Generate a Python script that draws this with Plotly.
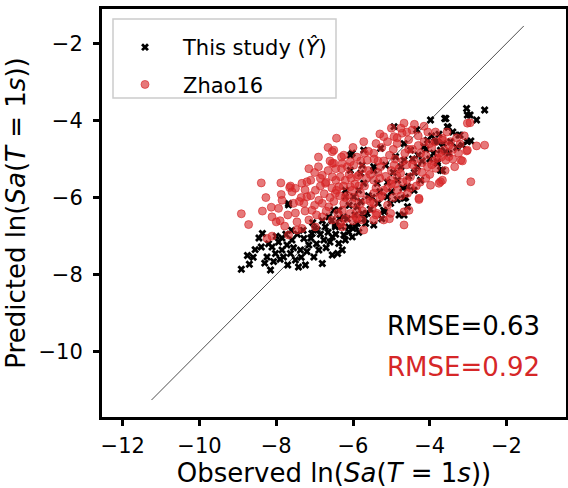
import plotly.graph_objects as go

# ---- data ----
ours_obs = [-8.91,-8.70,-8.36,-8.39,-8.24,-8.15,-8.11,-8.02,-8.07,-7.94,-7.85,-7.81,-7.68,-7.72,-7.63,-7.59,-7.50,-7.42,-7.37,-7.24,
            -7.28,-7.15,-7.07,-7.02,-6.89,-6.80,-6.76,-6.93,-6.72,-6.54,-6.54,-6.37,-6.28,-6.24,-6.46,-6.11,-6.02,-5.89,-6.07,-5.80,
            -5.85,-6.20,-6.37,-6.63,-5.76,-4.93,-3.98,-3.58,-3.54,-3.24,-3.02,-3.02,-4.34,-4.67,-4.06,-3.80,-4.15,-3.72,-3.50,-3.80,
            -3.72,-5.72,-5.28,-6.02,-5.15,-4.89,-4.50,-4.67,-4.32,-4.24,-4.58,-4.84,-5.37,-5.72,-5.98,-6.20,-6.50,-6.24,-5.89,-5.63,
            -5.67,-5.46,-5.20,-5.02,-4.67,-4.58,-4.80,-4.41,-5.93,-6.46,-6.11,-5.11,-5.46,-6.07,-5.46,-5.76,-3.04,-2.57,-2.95,-2.78,
            -3.61,-3.52,-3.76,-3.21,-3.87,-3.46,-2.93,-3.15,-3.58,-3.80,-3.67,-4.67,-4.63,-5.18,-7.68,
            -8.55,-8.45,-8.30,-8.20,-8.00,-7.90,-7.75,-7.70,-7.55,-7.45,-7.35,-7.30,-7.20,-7.10,-7.00,-6.95,-6.85,-6.70,-6.65,-6.60,
            -6.45,-6.40,-6.30,-6.20,-6.15,-6.00,-5.95,-5.85,-5.70,-5.55,-5.50,-5.35,-5.30,-5.25,-5.10,-5.00,-4.95,-4.85,-4.75,-4.70,
            -4.55,-4.45,-4.40,-4.30,-4.20,-4.10,-4.00,-3.95,-3.90,-3.65,-3.40,-3.30,-5.60,-5.80,-6.10,-6.35,-6.55,-6.80,-7.05,-7.60,
            -7.85,-8.60,-8.75]
ours_pred = [-7.86,-7.73,-6.93,-7.28,-7.54,-7.88,-7.28,-7.45,-7.66,-7.15,-7.36,-7.54,-6.15,-7.23,-7.45,-7.10,-7.62,-7.80,-7.36,-7.75,
             -7.06,-7.23,-6.93,-7.54,-7.36,-7.71,-7.10,-6.84,-6.76,-7.02,-7.49,-7.19,-7.36,-6.97,-6.71,-6.76,-7.02,-6.67,-4.90,-5.37,
             -5.81,-5.98,-6.33,-6.50,-6.41,-4.16,-3.99,-3.95,-4.16,-4.38,-3.86,-4.55,-4.24,-4.60,-4.51,-4.55,-4.68,-4.77,-4.85,-5.07,
             -5.29,-4.77,-4.72,-4.85,-5.16,-4.94,-4.77,-5.03,-5.20,-5.55,-5.72,-5.55,-5.63,-5.63,-5.98,-5.81,-6.33,-6.50,-6.24,-6.41,
             -6.67,-6.71,-6.33,-6.15,-6.02,-6.24,-6.45,-5.81,-6.76,-6.76,-6.89,-5.98,-5.29,-5.29,-5.20,-5.16,-3.69,-3.73,-3.86,-3.99,
             -3.95,-4.18,-4.36,-4.38,-4.55,-4.55,-4.53,-4.64,-4.81,-5.11,-5.30,-6.45,-6.00,-6.37,-6.19,
             -7.35,-7.05,-7.70,-7.20,-7.00,-7.60,-6.95,-7.75,-7.30,-6.95,-7.55,-6.85,-7.40,-7.05,-6.80,-7.20,-6.95,-7.30,-6.90,-7.15,
             -6.95,-7.45,-6.75,-7.10,-6.55,-6.80,-6.45,-6.90,-6.55,-6.30,-6.00,-6.15,-5.85,-6.55,-5.60,-5.85,-5.35,-6.05,-5.20,-5.75,
             -5.45,-5.00,-5.35,-4.90,-5.05,-4.75,-5.00,-4.40,-4.85,-4.60,-4.30,-4.70,-5.95,-6.10,-6.20,-6.55,-6.60,-6.60,-6.65,-6.85,
             -7.05,-7.55,-7.50]

zhao_obs = [-8.91,-8.72,-8.39,-8.27,-8.36,-8.13,-8.00,-8.11,-7.88,-7.87,-7.94,-7.85,-7.78,-7.63,-7.59,-7.50,-7.33,-7.20,-7.50,-7.46,
            -7.46,-8.24,-8.11,-7.68,-7.28,-7.20,-6.98,-6.80,-6.54,-6.54,-6.24,-6.28,-5.98,-6.72,-6.54,-6.89,-7.07,-7.15,-6.98,-6.80,
            -6.63,-6.46,-6.37,-6.20,-6.02,-5.85,-6.28,-6.02,-5.80,-6.54,-6.28,-5.93,-5.76,-7.33,
            -6.43,-5.72,-5.20,-4.93,-4.67,-4.46,-4.72,-4.15,-3.67,-3.46,-3.02,-3.02,-3.19,-3.58,-3.67,-3.98,-4.28,-4.54,-4.67,-5.02,
            -6.50,-6.50,-6.07,-5.63,-5.46,-5.28,-4.93,-4.76,-4.41,-4.24,-4.06,-4.50,-5.02,-5.46,-5.89,-6.33,-6.43,-6.07,-5.80,-5.46,
            -5.20,-4.84,-4.58,-5.46,-6.24,-6.07,-5.37,-5.20,-5.46,-5.89,-6.33,-5.72,-4.67,-3.72,
            -2.95,-3.67,-3.21,-3.04,-2.78,-2.57,-3.15,-3.63,-3.50,-3.80,-3.85,-2.93,-3.76,-4.28,-7.65,
            -6.90,-6.75,-6.65,-6.60,-6.45,-6.40,-6.30,-6.15,-6.10,-5.95,-5.90,-5.75,-5.70,-5.65,-5.60,-5.55,-5.50,-5.40,-5.35,-5.30,
            -5.25,-5.15,-5.10,-5.05,-5.00,-4.95,-4.90,-4.85,-4.80,-4.70,-4.65,-4.60,-4.55,-4.50,-4.45,-4.35,-4.30,-4.25,-4.20,-4.10,
            -4.05,-4.00,-3.95,-3.90,-3.85,-3.75,-3.55,-3.40,-3.35,-3.30,-6.85,-7.00,-7.10,-7.25,-7.40,-6.70,-6.20,-6.00,-5.80,-6.00,
            -5.40,-5.10,-4.95,-4.60,-4.40,-4.85,-5.30,-5.65,-6.25,-6.55,-6.85,
            -7.90,-7.70,-7.55,-7.35,-7.25,-7.10,-7.00,-6.95,-6.80,-6.70,-6.60,-6.50,-6.45,-6.35,-6.30,-6.20,-6.15,-6.05,-5.95,-5.90,
            -5.85,-5.75,-5.70,-5.60,-5.55,-5.45,-5.40,-5.35,-5.25,-5.20,-5.10,-5.05,-5.00,-4.90,-4.85,-4.75,-4.70,-4.60,-4.55,-4.45,
            -4.35,-4.30,-4.20,-4.15,-4.10,-4.00,-3.95,-3.85,-3.70,-3.60,-3.50,-3.40,-3.25,-3.10,-6.65,-6.90,-7.15,-5.30,-5.00,-4.75]
zhao_pred = [-6.42,-6.70,-5.62,-6.00,-6.35,-6.25,-6.63,-6.50,-5.62,-5.92,-6.28,-6.07,-6.74,-5.70,-5.85,-5.76,-5.63,-5.59,-6.40,-6.63,
             -6.84,-7.06,-7.00,-6.97,-6.15,-5.98,-5.81,-5.42,-4.81,-5.11,-4.90,-5.11,-5.16,-5.63,-5.46,-6.07,-6.33,-6.58,-6.76,-6.50,
             -6.24,-5.89,-5.72,-5.55,-5.81,-5.42,-6.33,-6.15,-6.15,-6.58,-6.76,-6.50,-6.58,-6.80,
             -4.46,-4.55,-4.42,-4.42,-4.07,-4.25,-4.33,-4.55,-4.51,-4.55,-4.07,-4.77,-5.03,-5.03,-5.55,-5.68,-6.02,-6.33,-6.71,-6.41,
             -4.77,-5.11,-5.07,-5.03,-4.85,-5.20,-5.16,-5.37,-5.03,-4.85,-5.20,-5.46,-5.55,-5.55,-5.46,-5.46,-5.81,-5.72,-5.89,-5.89,
             -5.81,-5.81,-5.89,-6.15,-6.15,-6.41,-6.41,-6.58,-6.58,-6.54,-6.67,-6.84,-6.37,-5.59,
             -4.06,-4.46,-4.61,-4.79,-4.66,-4.64,-5.05,-4.77,-4.94,-4.98,-5.24,-5.59,-5.63,-6.05,-5.74,
             -5.20,-5.90,-5.30,-6.00,-5.55,-6.40,-5.25,-5.95,-5.40,-5.65,-6.30,-5.25,-5.70,-6.05,-4.80,-5.40,-6.30,-5.75,-5.05,-6.00,
             -4.70,-5.45,-6.20,-4.90,-5.65,-6.00,-5.00,-4.60,-5.25,-5.60,-4.85,-5.15,-4.50,-5.75,-4.75,-5.30,-4.40,-5.60,-5.10,-4.90,
             -4.30,-5.40,-4.70,-5.05,-4.30,-4.85,-4.30,-4.75,-5.20,-4.45,-5.70,-6.20,-5.95,-6.35,-6.10,-6.35,-6.55,-6.60,-5.05,-4.70,
             -4.60,-4.55,-4.75,-4.30,-4.10,-5.45,-5.50,-5.50,-5.70,-5.75,-5.50,
             -6.60,-6.45,-6.15,-6.00,-5.80,-5.55,-5.35,-6.45,-6.15,-5.60,-5.05,-6.10,-5.25,-5.95,-4.95,-6.00,-5.20,-5.50,-6.00,-4.95,
             -5.70,-6.35,-4.85,-5.30,-6.10,-5.00,-6.45,-5.35,-5.95,-5.05,-5.75,-6.55,-5.30,-5.65,-4.45,-5.95,-5.05,-5.55,-4.75,-5.15,
             -5.70,-4.65,-5.35,-4.15,-5.50,-4.60,-5.15,-4.55,-4.95,-5.30,-4.65,-5.00,-4.85,-4.40,-4.70,-4.95,-5.25,-4.35,-4.20,-4.20]

ref_line = [-11.25, -1.55]
xtick_vals = [-12, -10, -8, -6, -4, -2]
xtick_text = ["\u221212", "\u221210", "\u22128", "\u22126", "\u22124", "\u22122"]
ytick_vals = [-10, -8, -6, -4, -2]
ytick_text = ["\u221210", "\u22128", "\u22126", "\u22124", "\u22122"]
rmse_labels = ["RMSE=0.63", "RMSE=0.92"]
rmse_colors = ["#000000", "#d62728"]

FONT = "DejaVu Sans"
W, H, ML, MR, MT, MB = 568, 488, 102, 2, 9, 71
pw, ph = W - ML - MR, H - MT - MB


def to_paper_x(p):
    return (p - ML) / pw


def to_paper_y(p):
    return (H - MB - p) / ph


fig = go.Figure()
fig.add_trace(go.Scatter(x=ref_line, y=ref_line, mode="lines",
                         line=dict(color="#222222", width=0.8), showlegend=False, hoverinfo="skip"))
fig.add_trace(go.Scatter(x=ours_obs, y=ours_pred, mode="markers", name="This study (<i>\u0176</i>)",
                         legendrank=1, legendgroup="a",
                         marker=dict(symbol="x", size=7, color="black", line=dict(width=0))))
fig.add_trace(go.Scatter(x=zhao_obs, y=zhao_pred, mode="markers", name="Zhao16",
                         legendrank=2, legendgroup="b",
                         marker=dict(symbol="circle", size=8, color="rgba(214,39,40,0.62)",
                                     line=dict(color="rgba(214,39,40,0.62)", width=1))))

for i, (lab, col) in enumerate(zip(rmse_labels, rmse_colors)):
    fig.add_annotation(text=lab, xref="paper", yref="paper", x=0.610, y=[0.222, 0.122][i],
                       xanchor="left", yanchor="middle", showarrow=False,
                       font=dict(family=FONT, size=26, color=col))

# legend frame (matplotlib style)
fig.add_shape(type="rect", xref="paper", yref="paper", layer="above",
              x0=to_paper_x(113), x1=to_paper_x(336), y0=to_paper_y(98), y1=to_paper_y(19),
              line=dict(color="#cccccc", width=1.5), fillcolor="rgba(255,255,255,0.8)")

axis_common = dict(showgrid=False, zeroline=False, showline=True, linecolor="black", linewidth=3,
                   mirror=True, ticks="outside", ticklen=6, tickwidth=3, tickcolor="black",
                   tickfont=dict(family=FONT, size=21, color="black"))

fig.update_xaxes(range=[-12.54, -0.45], tickvals=xtick_vals, ticktext=xtick_text, ticklabelstandoff=2,
                 title=dict(text="Observed ln(<i>Sa</i>(<i>T</i> = 1<i>s</i>))",
                            font=dict(family=FONT, size=26, color="black"), standoff=2),
                 **axis_common)
fig.update_yaxes(range=[-11.69, -1.11], tickvals=ytick_vals, ticktext=ytick_text, ticklabelstandoff=6,
                 title=dict(text="Predicted ln(<i>Sa</i>(<i>T</i> = 1<i>s</i>))",
                            font=dict(family=FONT, size=26, color="black"), standoff=6),
                 **axis_common)

fig.update_layout(
    width=W, height=H,
    margin=dict(l=ML, r=MR, t=MT, b=MB, autoexpand=False),
    paper_bgcolor="white", plot_bgcolor="white",
    font=dict(family=FONT, color="black"),
    legend=dict(x=to_paper_x(107), y=to_paper_y(27), xanchor="left", yanchor="top",
                bgcolor="rgba(0,0,0,0)", borderwidth=0,
                font=dict(family=FONT, size=21, color="black"), tracegroupgap=7,
                itemwidth=66),
    showlegend=True,
)

fig.write_html("out.html")
